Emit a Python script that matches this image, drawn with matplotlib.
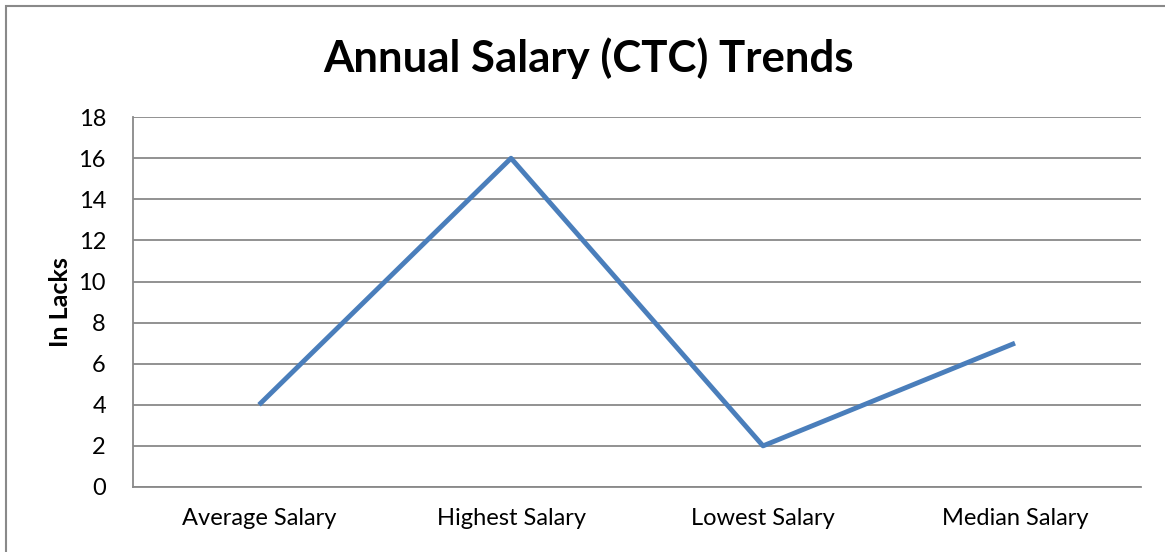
import matplotlib.pyplot as plt
from matplotlib.patches import Rectangle

categories = ["Average Salary", "Highest Salary", "Lowest Salary", "Median Salary"]
salary = [4, 16, 2, 7]
yticks = [0, 2, 4, 6, 8, 10, 12, 14, 16, 18]

plt.rcParams['font.family'] = ['Lato', 'DejaVu Sans']

fig = plt.figure(figsize=(11.65, 5.52), dpi=100)
ax = fig.add_axes([0.1142, 0.1178, 0.8652, 0.670])

# outer chart border
fig.patches.append(Rectangle((0.0052, -0.05), 1.2, 1.04, transform=fig.transFigure,
                             fill=False, edgecolor='#898989', linewidth=1.5))

x = list(range(len(categories)))
ax.plot(x, salary, color='#4A7EBB', linewidth=3.5, solid_capstyle='butt', zorder=3)

ax.set_xlim(-0.5, len(categories) - 0.5)
ax.set_ylim(0, 18)
ax.set_yticks(yticks)
ax.set_xticks(x)
ax.set_xticklabels(categories)
ax.tick_params(axis='both', length=0, labelsize=17, colors='black')
ax.tick_params(axis='x', pad=15)
ax.tick_params(axis='y', pad=19.5)

ax.grid(axis='y', color='#898989', linewidth=1.3)
ax.set_axisbelow(True)
for side in ['top', 'right']:
    ax.spines[side].set_visible(False)
for side in ['left', 'bottom']:
    ax.spines[side].set_color('#898989')
    ax.spines[side].set_linewidth(1.3)

ax.set_ylabel("In Lacks", fontsize=18, fontweight='bold', labelpad=5)
fig.text(0.505, 0.895, "Annual Salary (CTC) Trends", ha='center', va='center',
         fontsize=31.5, fontweight='bold')

fig.savefig("out.png", dpi=100)
